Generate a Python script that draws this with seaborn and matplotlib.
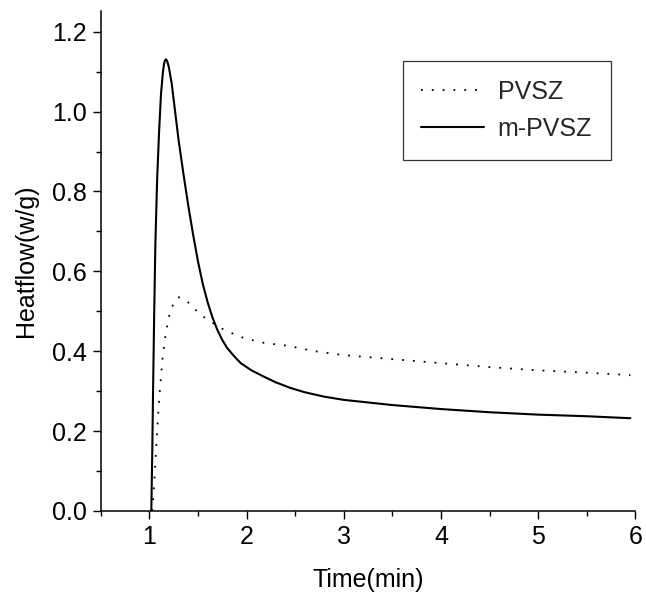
import numpy as np
import pandas as pd
import matplotlib
matplotlib.use("Agg")
import matplotlib.pyplot as plt
import seaborn as sns
from matplotlib.ticker import MultipleLocator
from matplotlib.lines import Line2D

# Data
pvsz_time = [1.03, 1.05, 1.072, 1.09, 1.106, 1.116, 1.133, 1.161, 1.198, 1.233, 1.27,
             1.301, 1.34, 1.388, 1.473, 1.558, 1.645, 1.732, 1.824, 1.91, 2.0, 2.175,
             2.436, 2.7, 3.0, 3.5, 4.0, 4.5, 5.0, 5.5, 5.95]
pvsz_heat = [0.0, 0.07, 0.165, 0.24, 0.297, 0.325, 0.377, 0.431, 0.484, 0.511, 0.528,
             0.535, 0.532, 0.525, 0.504, 0.486, 0.472, 0.458, 0.448, 0.438, 0.431, 0.421,
             0.413, 0.400, 0.390, 0.380, 0.370, 0.360, 0.352, 0.346, 0.340]

mpvsz_time = [1.02, 1.03, 1.038, 1.05, 1.062, 1.08, 1.10, 1.12, 1.14, 1.15, 1.16, 1.172,
              1.185, 1.20, 1.23, 1.26, 1.30, 1.35, 1.40, 1.45, 1.50, 1.55, 1.60, 1.65,
              1.70, 1.75, 1.80, 1.87, 1.94, 2.05, 2.18, 2.30, 2.45, 2.60, 2.80, 3.0,
              3.5, 4.0, 4.5, 5.0, 5.5, 5.95]
mpvsz_heat = [0.0, 0.15, 0.30, 0.50, 0.67, 0.83, 0.95, 1.045, 1.10, 1.118, 1.128, 1.131,
              1.125, 1.112, 1.07, 1.01, 0.93, 0.845, 0.765, 0.692, 0.625, 0.568, 0.522, 0.484,
              0.453, 0.428, 0.408, 0.388, 0.370, 0.352, 0.336, 0.322, 0.308, 0.297, 0.286, 0.278,
              0.265, 0.255, 0.247, 0.241, 0.237, 0.232]

series_names = ["PVSZ", "m-PVSZ"]
x_ticks = [1, 2, 3, 4, 5, 6]
y_ticks = [0.0, 0.2, 0.4, 0.6, 0.8, 1.0, 1.2]

df = pd.concat([
    pd.DataFrame({"Time": pvsz_time, "Heat": pvsz_heat, "Sample": series_names[0]}),
    pd.DataFrame({"Time": mpvsz_time, "Heat": mpvsz_heat, "Sample": series_names[1]}),
], ignore_index=True)

sns.set_theme(style="ticks")
plt.rcParams["font.family"] = ["Liberation Sans", "DejaVu Sans"]
plt.rcParams["axes.linewidth"] = 1.1

fig = plt.figure(figsize=(6.46, 6.01), dpi=100)
ax = fig.add_axes([0.156, 0.150, 0.9834 - 0.156, 0.9817 - 0.150])

sns.lineplot(data=df, x="Time", y="Heat", hue="Sample", style="Sample",
             palette={"PVSZ": "black", "m-PVSZ": "black"},
             dashes={"PVSZ": (1, 5), "m-PVSZ": ""},
             sort=False, estimator=None, ax=ax, legend=False)
lines = ax.get_lines()
lines[0].set_linewidth(1.3)
lines[1].set_linewidth(1.5)
for ln in lines:
    ln.set_solid_joinstyle("round")

ax.set_xlim(0.5, 6.0)
ax.set_ylim(0.0, 1.252)
ax.set_xticks(x_ticks)
ax.set_yticks(y_ticks)
ax.set_xticklabels([str(t) for t in x_ticks])
ax.set_yticklabels([f"{t:.1f}" for t in y_ticks])
ax.xaxis.set_minor_locator(MultipleLocator(0.5))
ax.yaxis.set_minor_locator(MultipleLocator(0.1))
ax.tick_params(which="major", length=6, width=1.0, direction="out", labelsize=18,
               pad=4, color="black", labelcolor="black")
ax.tick_params(which="minor", length=3.5, width=1.0, direction="out", color="black")
sns.despine(ax=ax)
ax.spines["left"].set_color("black")
ax.spines["bottom"].set_color("black")

ax.set_xlabel("Time(min)", fontsize=18, labelpad=14, color="black")
ax.set_ylabel("Heatflow(w/g)", fontsize=18, labelpad=10, color="black")

handles = [Line2D([], [], color="black", lw=1.3, linestyle=(0, (1, 5))),
           Line2D([], [], color="black", lw=1.5)]
leg = ax.legend(handles, series_names, loc="upper right", bbox_to_anchor=(0.954, 0.90),
                borderaxespad=0, fontsize=18, frameon=True, fancybox=False,
                handlelength=2.5, handletextpad=0.55, labelspacing=0.54,
                borderpad=0.75)
leg.get_frame().set_edgecolor("black")
leg.get_frame().set_linewidth(0.9)

fig.savefig("out.png", dpi=100)
